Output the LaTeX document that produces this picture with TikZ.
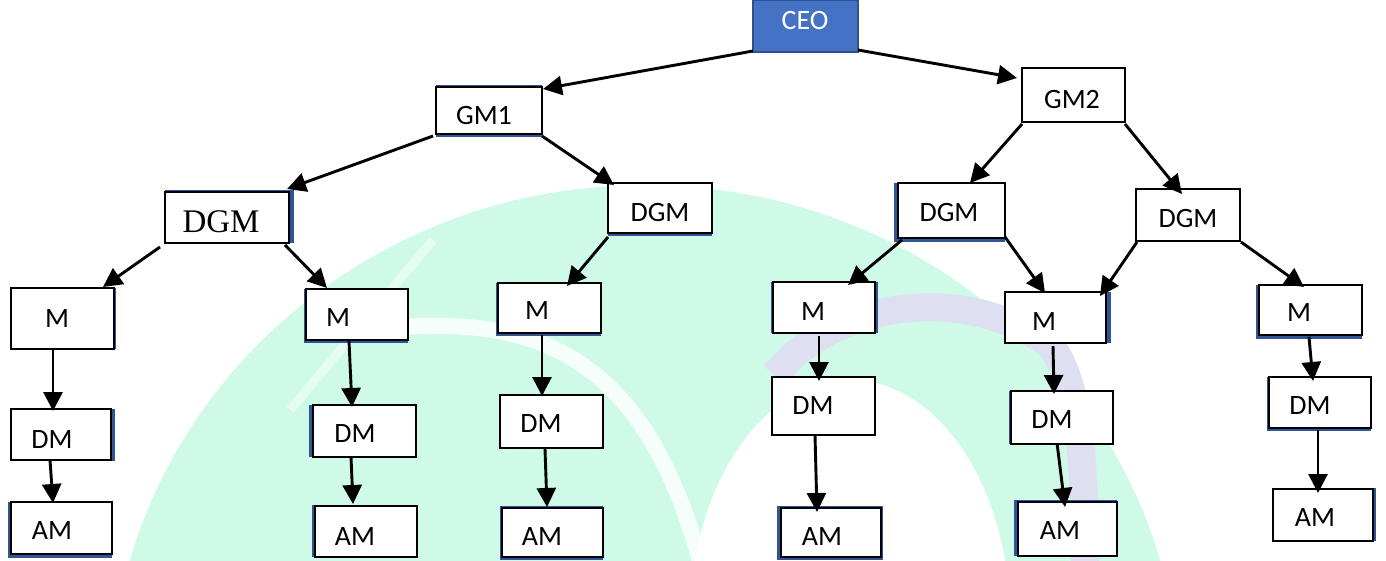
\documentclass[tikz,border=0pt]{standalone}
\usepackage{fontspec}
\setmainfont{Carlito}
\newfontfamily\timesfont{Liberation Serif}
\usetikzlibrary{arrows.meta}
\definecolor{shd}{RGB}{47,85,151}
\definecolor{ceofill}{RGB}{68,114,196}
\definecolor{ceoline}{RGB}{47,82,143}
\definecolor{mint}{RGB}{208,250,232}
\definecolor{lav}{RGB}{222,223,240}
\begin{document}
\begin{tikzpicture}[x=1pt,y=-1pt,
 box/.style={draw=black, line width=1.4pt, fill=white, inner sep=0pt, outer sep=0pt, anchor=north west},
 txt/.style={inner sep=0pt, font=\fontsize{28}{30}\selectfont},
 arr/.style={line width=2.9pt, -{Triangle[length=19pt,width=19pt]}},
 shd/.style={fill=shd}]
\useasboundingbox (0,0) rectangle (1386,561);
\fill[white] (0,0) rectangle (1386,561);
% watermark
\begin{scope}
\clip (0,0) rectangle (1386,561);
\fill[mint] (645,700) ellipse [x radius=535, y radius=515];
\fill[white] (850,620) ellipse [x radius=160, y radius=240];
\draw[white, opacity=0.8, line width=16pt] (400,327) .. controls (520,320) and (640,340) .. (700,561);
\draw[white, opacity=0.45, line width=9pt] (290,410) -- (433,240);
\draw[lav, line width=28pt] (775,375) .. controls (830,305) and (960,280) .. (1050,345) .. controls (1080,380) and (1085,470) .. (1085,561);
\end{scope}
% shadows
\fill[shd] (436,85) rectangle (542,137);
\fill[shd] (165,190) rectangle (294,243);
\fill[shd] (608,182) rectangle (712,236);
\fill[shd] (894,183) rectangle (1005,242);
\fill[shd] (1136,188) rectangle (1240,241);
\fill[shd] (11,288) rectangle (116,349);
\fill[shd] (304,289) rectangle (408,343);
\fill[shd] (496,283) rectangle (601,336);
\fill[shd] (771,282) rectangle (878,333);
\fill[shd] (1005,292) rectangle (1111,343);
\fill[shd] (1256,285) rectangle (1362,339);
\fill[shd] (11,409) rectangle (115,461);
\fill[shd] (309,405) rectangle (416,457);
\fill[shd] (500,394) rectangle (603,448);
\fill[shd] (1009,391) rectangle (1113,444);
\fill[shd] (1267,377) rectangle (1371,431);
\fill[shd] (8,502) rectangle (112,558);
\fill[shd] (312,505) rectangle (417,557);
\fill[shd] (500,506) rectangle (603,560);
\fill[shd] (777,506) rectangle (883,560);
\fill[shd] (1014,500) rectangle (1117,556);
\fill[shd] (1273,488) rectangle (1376,541);
% boxes
\node[box, fill=ceofill, draw=ceoline, line width=2pt, minimum width=105pt, minimum height=52pt] (CEO) at (753,0) {};
\node[box, minimum width=106pt, minimum height=47pt] (GM1) at (436,87) {};
\node[box, minimum width=103pt, minimum height=54pt] (GM2) at (1022,68) {};
\node[box, minimum width=124pt, minimum height=51pt] (DGMa) at (165,192) {};
\node[box, minimum width=104pt, minimum height=50pt] (DGMb) at (608,183) {};
\node[box, minimum width=107pt, minimum height=55pt] (DGMc) at (898,183) {};
\node[box, minimum width=104pt, minimum height=52pt] (DGMd) at (1136,189) {};
\node[box, minimum width=103pt, minimum height=61pt] (Ma) at (11,288) {};
\node[box, minimum width=102pt, minimum height=51pt] (Mb) at (306,289) {};
\node[box, minimum width=103pt, minimum height=50pt] (Mc) at (498,283) {};
\node[box, minimum width=102pt, minimum height=51pt] (Md) at (773,282) {};
\node[box, minimum width=101pt, minimum height=51pt] (Me) at (1005,292) {};
\node[box, minimum width=103pt, minimum height=50pt] (Mf) at (1259,285) {};
\node[box, minimum width=100pt, minimum height=51pt] (DMa) at (11,409) {};
\node[box, minimum width=103pt, minimum height=52pt] (DMb) at (313,405) {};
\node[box, minimum width=103pt, minimum height=53pt] (DMc) at (500,395) {};
\node[box, minimum width=103pt, minimum height=58pt] (DMd) at (772,377) {};
\node[box, minimum width=102pt, minimum height=53pt] (DMe) at (1011,391) {};
\node[box, minimum width=102pt, minimum height=51pt] (DMf) at (1269,377) {};
\node[box, minimum width=101pt, minimum height=52pt] (AMa) at (11,502) {};
\node[box, minimum width=102pt, minimum height=51pt] (AMb) at (315,506) {};
\node[box, minimum width=101pt, minimum height=49pt] (AMc) at (502,508) {};
\node[box, minimum width=100pt, minimum height=49pt] (AMd) at (781,508) {};
\node[box, minimum width=99pt, minimum height=54pt] (AMe) at (1018,502) {};
\node[box, minimum width=100pt, minimum height=52pt] (AMf) at (1273,489) {};
% texts
\node[txt, text=white] (CEO-t) at (805,21) {CEO};
\node[txt] (GM1-t) at (484,116) {GM1};
\node[txt] (GM2-t) at (1072,100) {GM2};
\node[txt, font=\fontsize{33}{36}\timesfont] (DGMa-t) at (221,222) {DGM};
\node[txt] (DGMb-t) at (660,213) {DGM};
\node[txt] (DGMc-t) at (949,213) {DGM};
\node[txt] (DGMd-t) at (1188,219) {DGM};
\node[txt] (Ma-t) at (57,319) {M};
\node[txt] (Mb-t) at (338,318) {M};
\node[txt] (Mc-t) at (537,311) {M};
\node[txt] (Md-t) at (813,312) {M};
\node[txt] (Me-t) at (1044,322) {M};
\node[txt] (Mf-t) at (1299,313) {M};
\node[txt] (DMa-t) at (52,440) {DM};
\node[txt] (DMb-t) at (355,434) {DM};
\node[txt] (DMc-t) at (541,424) {DM};
\node[txt] (DMd-t) at (813,406) {DM};
\node[txt] (DMe-t) at (1052,420) {DM};
\node[txt] (DMf-t) at (1310,406) {DM};
\node[txt] (AMa-t) at (52,531) {AM};
\node[txt] (AMb-t) at (355,537) {AM};
\node[txt] (AMc-t) at (542,537) {AM};
\node[txt] (AMd-t) at (822,537) {AM};
\node[txt] (AMe-t) at (1060,531) {AM};
\node[txt] (AMf-t) at (1315,518) {AM};
% arrows
\draw[arr] ([shift={(0,51)}]CEO.north west) -- ([shift={(107,2)}]GM1.north west);
\draw[arr] ([shift={(105,50)}]CEO.north west) -- ([shift={(-5,10)}]GM2.north west);
\draw[arr] ([shift={(-3,49)}]GM1.north west) -- ([shift={(122,-3)}]DGMa.north west);
\draw[arr] ([shift={(106,49)}]GM1.north west) -- ([shift={(6,2)}]DGMb.north west);
\draw[arr] ([shift={(0,56)}]GM2.north west) -- ([shift={(72,0)}]DGMc.north west);
\draw[arr] ([shift={(103,56)}]GM2.north west) -- ([shift={(46,5)}]DGMd.north west);
\draw[arr] ([shift={(-5,55)}]DGMa.north west) -- ([shift={(92,-1)}]Ma.north west);
\draw[arr] ([shift={(120,53)}]DGMa.north west) -- ([shift={(21,-1)}]Mb.north west);
\draw[arr] ([shift={(0,54)}]DGMb.north west) -- ([shift={(69,3)}]Mc.north west);
\draw[arr] ([shift={(4,57)}]DGMc.north west) -- ([shift={(75,3)}]Md.north west);
\draw[arr] ([shift={(107,54)}]DGMc.north west) -- ([shift={(40,1)}]Me.north west);
\draw[arr] ([shift={(1,53)}]DGMd.north west) -- ([shift={(95,4)}]Me.north west);
\draw[arr] ([shift={(105,53)}]DGMd.north west) -- ([shift={(45,2)}]Mf.north west);
\draw[arr] ([shift={(42,62)}]Ma.north west) -- ([shift={(42,2)}]DMa.north west);
\draw[arr] ([shift={(39,51)}]DMa.north west) -- ([shift={(42,1)}]AMa.north west);
\draw[arr] ([shift={(43,52)}]Mb.north west) -- ([shift={(39,2)}]DMb.north west);
\draw[arr] ([shift={(38,52)}]DMb.north west) -- ([shift={(38,-2)}]AMb.north west);
\draw[arr] ([shift={(44,52)}]Mc.north west) -- ([shift={(42,1)}]DMc.north west);
\draw[arr] ([shift={(45,54)}]DMc.north west) -- ([shift={(45,-1)}]AMc.north west);
\draw[arr] ([shift={(46,54)}]Md.north west) -- ([shift={(47,4)}]DMd.north west);
\draw[arr] ([shift={(43,58)}]DMd.north west) -- ([shift={(36,4)}]AMd.north west);
\draw[arr] ([shift={(48,54)}]Me.north west) -- ([shift={(43,3)}]DMe.north west);
\draw[arr] ([shift={(46,52)}]DMe.north west) -- ([shift={(47,5)}]AMe.north west);
\draw[arr] ([shift={(50,52)}]Mf.north west) -- ([shift={(44,4)}]DMf.north west);
\draw[arr] ([shift={(49,53)}]DMf.north west) -- ([shift={(45,4)}]AMf.north west);
\end{tikzpicture}
\end{document}
